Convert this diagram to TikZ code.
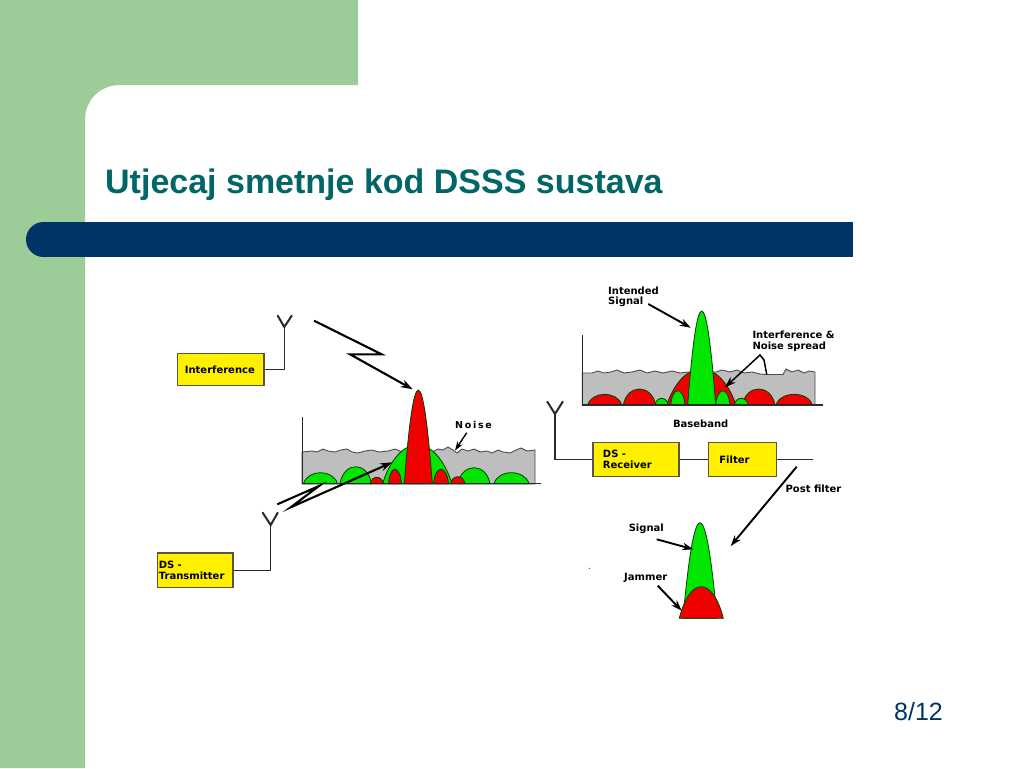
\documentclass[tikz,border=0pt]{standalone}
\usepackage{fontspec}
\setmainfont{Liberation Sans}
\newfontfamily\smalllabel{DejaVu Sans Bold}
\newfontfamily\widelabel[LetterSpace=18]{DejaVu Sans Bold}
\usetikzlibrary{arrows.meta}
\definecolor{sidegreen}{HTML}{9CCC98}
\definecolor{barblue}{HTML}{003366}
\definecolor{titleteal}{HTML}{006666}
\definecolor{specgreen}{HTML}{00E600}
\definecolor{specred}{HTML}{F00000}
\definecolor{noisegray}{HTML}{BEBEBE}
\definecolor{boxyellow}{HTML}{FFF000}
\definecolor{wirecol}{HTML}{2A2A2A}
% \bell{factor}{fill}{x1}{x2}{base y}{peak y}: spectrum lobe; a larger factor gives a sharper top
\newcommand{\bell}[6]{%
  \pgfmathsetmacro{\lobeA}{#3+#1*(#4-#3)}%
  \pgfmathsetmacro{\lobeB}{#4-#1*(#4-#3)}%
  \pgfmathsetmacro{\lobeC}{#5-1.333*(#5-#6)}%
  \draw[spec,fill=#2] (#3,#5) .. controls (\lobeA,\lobeC) and (\lobeB,\lobeC) .. (#4,#5) -- cycle;}
\newcommand{\lobe}{\bell{0.12}}
\newcommand{\widebell}{\bell{0.24}}
\newcommand{\peakshape}{\bell{0.34}}
\tikzset{
  x=1pt,y=-1pt,
  spec/.style={draw=black!75!green,line width=0.8pt},
  wire/.style={draw=wirecol,line width=1.2pt},
  aerial/.style={draw=wirecol,line width=2pt,line cap=round,line join=miter},
  bolt/.style={draw=black,line width=2.1pt,-{Stealth[length=12pt,width=8pt]}},
  pointer/.style={draw=black,line width=1.9pt,-{Stealth[length=11pt,width=7.5pt]}},
  axis/.style={draw=wirecol,line width=1.2pt},
  noise/.style={draw=black!70,line width=0.9pt,fill=noisegray},
  boxnode/.style={draw=black!75!yellow,line width=1.3pt,fill=boxyellow,font=\smalllabel\fontsize{10}{10.5}\selectfont,align=left,anchor=north west,inner ysep=0pt,minimum height=#1},
  lab/.style={font=\smalllabel\fontsize{10}{10.5}\selectfont,inner sep=0pt,align=left}
}
\begin{document}
\begin{tikzpicture}
\useasboundingbox (0,0) rectangle (1024,768);
% slide background
\fill[white] (0,0) rectangle (1024,768);
\fill[sidegreen] (0,0) -- (358,0) -- (358,85) -- (120,85) .. controls (100,85) and (85,100) .. (85,120) -- (85,768) -- (0,768) -- cycle;
\fill[barblue] (44,222) rectangle (853,257);
\fill[barblue] (43.5,239.5) circle[radius=17.5];
\node[anchor=base west,inner sep=0pt,text=titleteal,font=\bfseries\fontsize{34}{38}\selectfont] (title) at (105,193) {Utjecaj smetnje kod DSSS sustava};
\node[anchor=base east,inner sep=0pt,text=barblue,font=\fontsize{25}{28}\selectfont] (page) at (943,720.5) {8/12};

% --- left spectrum
\draw[noise] (302,484) -- (302,452) -- (312,451) -- (317,452) -- (323,449) -- (328,451) -- (335,452) -- (341,450) -- (347,449) -- (352,452) -- (358,453) -- (365,451) -- (372,450) -- (379,452) -- (388,451) -- (395,449) -- (402,452) -- (432,452) -- (438,449) -- (443,450) -- (448,447) -- (453,450) -- (457,453) -- (462,449) -- (468,451) -- (474,449) -- (480,452) -- (487,451) -- (492,453) -- (498,450) -- (503,452) -- (510,453) -- (516,450) -- (521,448) -- (527,451) -- (535,450) -- (535,484) -- cycle;
\lobe{specgreen}{303.5}{337.5}{483.7}{472.7}
\lobe{specgreen}{340}{371.5}{483.7}{466.7}
\widebell{specgreen}{382.5}{452}{483.7}{445}
\lobe{specgreen}{458}{490}{483.7}{467.7}
\lobe{specgreen}{494}{529}{483.7}{472.7}
\lobe{specred}{370}{383.5}{483.7}{477.3}
\lobe{specred}{388.5}{401.5}{483.7}{469.3}
\lobe{specred}{433.5}{448.5}{483.7}{469.3}
\lobe{specred}{450.5}{465}{483.7}{476.7}
\peakshape{specred}{404.3}{432.3}{483.7}{390}
\draw[axis] (302.3,417.3) -- (302.3,483.7) -- (541,483.7);

% --- left blocks
\node[boxnode=32pt,minimum width=86.6pt,text width=77.6pt,inner xsep=4.5pt] (interf) at (176.7,353) {\hspace{3pt}Interference\\[4pt]};
\coordinate (antA) at (284.3,327);
\coordinate (antAl) at (277.7,315.7);
\coordinate (antAr) at (291.7,315.7);
\draw[wire] (interf.east) -- (antA |- interf.east) -- (antA);
\draw[aerial] (antAl) -- (antA) -- (antAr);

\node[boxnode=34.4pt,minimum width=75.6pt,text width=72.6pt,inner xsep=1.5pt] (dstx) at (156.7,552.3) {DS -\\Transmitter};
\coordinate (antB) at (270.7,525);
\coordinate (antBl) at (262.7,512.7);
\coordinate (antBr) at (277.7,512.7);
\draw[wire] (dstx.east) -- (antB |- dstx.east) -- (antB);
\draw[aerial] (antBl) -- (antB) -- (antBr);

% bolts
\coordinate (boltA0) at (314,320.7);
\coordinate (boltA1) at (381.7,354.3);
\coordinate (boltA2) at (350,354.3);
\coordinate (boltA3) at (412.7,389.3);
\draw[bolt] (boltA0) -- (boltA1) -- (boltA2) -- (boltA3);
\coordinate (boltB0) at (277.3,504.3);
\coordinate (boltB1) at (319,486);
\coordinate (boltB2) at (290.7,507.3);
\coordinate (boltB3) at (392.3,462.3);
\draw[bolt] (boltB0) -- (boltB1) -- (boltB2) -- (boltB3);

\node[lab,font=\widelabel\fontsize{9.5}{10.5}\selectfont] (noiselab) at (473.5,425) {Noise};
\coordinate (noiseend) at (455,450.5);
\draw[pointer,line width=1.4pt,-{Stealth[length=9pt,width=6pt]}] (466.7,432.7) -- (noiseend);

% --- right spectrum
\draw[noise] (582.3,405) -- (582.3,373) -- (592,373) -- (598,371) -- (604,373) -- (611,372) -- (617,370) -- (624,373) -- (632,372) -- (640,370) -- (647,373) -- (655,371) -- (663,373) -- (672,371) -- (680,373) -- (688,372) -- (716,372) -- (722,370) -- (730,372) -- (737,370) -- (744,373) -- (752,372) -- (760,374) -- (766,374.5) -- (783,374.5) -- (786,369) -- (792,372) -- (798,370) -- (804,373) -- (809,371) -- (815,372) -- (815,405) -- cycle;
\lobe{specred}{587.7}{621.7}{405}{394.3}
\lobe{specred}{623.3}{655.7}{405}{389}
\widebell{specred}{666.7}{736}{405}{369}
\lobe{specred}{742.3}{775}{405}{389}
\lobe{specred}{776}{812.3}{405}{394.3}
\lobe{specgreen}{655}{668.3}{405}{398.3}
\lobe{specgreen}{670.7}{685}{405}{390.7}
\lobe{specgreen}{715.7}{730}{405}{390.7}
\lobe{specgreen}{734.3}{748.3}{405}{398.3}
\peakshape{specgreen}{687.7}{715.7}{405}{311}
\draw[axis] (582.3,335) -- (582.3,405) -- (823.3,405);

\node[lab,anchor=north west] (intended) at (608,286.5) {Intended\\Signal};
\coordinate (intendedtip) at (690.7,327.7);
\draw[pointer] (648.3,304) -- (intendedtip);
\node[lab,anchor=north west] (spreadlab) at (752.3,331) {Interference \&\\Noise spread};
\coordinate (spreadtip) at (725,387.3);
\draw[pointer,line width=1.5pt] (766.7,374.3) -- (764,360) -- (760,355) -- (spreadtip);
\node[lab] (baseband) at (700.7,423.3) {Baseband};

% --- receiver chain
\node[boxnode=34.3pt,minimum width=86pt,text width=76pt,inner xsep=5pt] (dsrx) at (592.3,441.7) {\hspace{5pt}DS -\\\hspace{5pt}Receiver};
\node[boxnode=34.3pt,minimum width=68pt,text width=58pt,inner xsep=5pt] (filt) at (707.7,441.7) {\hspace{6pt}Filter\\[5pt]};
\coordinate (antC) at (555,414);
\coordinate (antCl) at (547.3,401.7);
\coordinate (antCr) at (562.7,401.7);
\coordinate (chainend) at (813.3,459);
\draw[wire] (dsrx.west) -- (antC |- dsrx.west) -- (antC);
\draw[aerial] (antCl) -- (antC) -- (antCr);
\draw[wire] (dsrx.east) -- (filt.west);
\draw[wire] (filt.east) -- (filt.east -| chainend);

\coordinate (postA) at (796.7,466.7);
\coordinate (postB) at (730.7,546);
\draw[pointer] (postA) -- (postB);
\node[lab] (postlab) at (813.5,489) {Post filter};

% --- post-filter spectrum
\peakshape{specgreen}{683}{717}{618.3}{522.7}
\widebell{specred}{679.3}{723.3}{618.3}{586.7}
\node[lab] (signallab) at (646.3,529) {Signal};
\coordinate (signaltip) at (693.3,549.3);
\draw[pointer] (656.7,539.3) -- (signaltip);
\node[lab] (jammerlab) at (645.7,577.7) {Jammer};
\coordinate (jammertip) at (681.7,610.7);
\draw[pointer] (657.7,585.7) -- (jammertip);
\fill[black!70] (589.3,568.3) circle[radius=0.7];
\end{tikzpicture}
\end{document}
